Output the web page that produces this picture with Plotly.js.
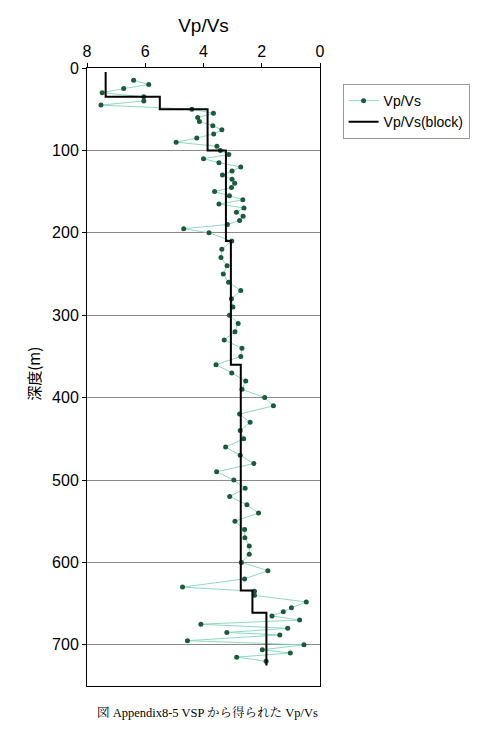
<!DOCTYPE html>
<html>
<head>
<meta charset="utf-8">
<script src="https://cdn.plot.ly/plotly-3.0.1.min.js"></script>
<style>
html,body{margin:0;padding:0;background:#fff;}
#chart{width:482px;height:736px;}
</style>
</head>
<body>
<div id="chart"></div>
<script>
// Measured Vp/Vs by depth (m)
var depth = [15,20,25,30,35,40,45,50,55,60,65,70,75,80,85,90,95,100,105,110,115,120,125,130,135,140,145,150,155,160,165,170,175,180,185,190,195,200,210,220,230,240,250,260,270,280,290,300,310,320,330,340,350,360,370,380,390,400,410,420,430,440,450,460,470,480,490,500,510,520,530,540,550,560,570,580,590,600,610,620,630,635,640,648,655,660,665,670,675,680,685,688,695,700,706,710,715,720];
var vpvs = [6.40,5.88,6.74,7.48,6.05,6.05,7.52,4.40,3.66,4.20,4.14,3.68,3.37,3.65,4.23,4.94,3.54,3.42,3.13,4.00,3.47,2.72,3.02,3.35,3.02,2.93,3.04,3.62,3.11,2.65,3.47,2.61,2.87,2.64,2.76,3.18,4.68,3.81,3.03,3.37,3.40,3.19,3.32,3.14,2.72,3.04,2.99,3.11,2.81,2.92,3.29,2.68,2.72,3.57,3.03,2.55,2.68,1.90,1.60,2.76,2.40,2.74,2.62,3.24,2.74,2.27,3.55,2.96,2.57,3.10,2.51,2.11,2.92,2.59,2.58,2.43,2.43,2.70,1.79,2.59,4.72,2.25,2.25,0.47,0.98,1.26,1.65,0.70,4.09,1.11,3.20,1.38,4.55,0.55,1.98,1.02,2.86,1.85];

// Block model: top depth of each block and its Vp/Vs
var blockTop = [5,35,50,100,210,360,634,661,725];
var blockVal = [7.36,5.50,3.86,3.23,3.06,2.72,2.32,1.84,1.84];

var xTicks = [8,6,4,2,0];
var yTicks = [0,100,200,300,400,500,600,700];

var traces = [
  {
    x: vpvs, y: depth, name: 'Vp/Vs', type: 'scatter', mode: 'lines+markers',
    line: {color: '#8fd8c4', width: 1},
    marker: {color: '#1c5a3c', size: 5}
  },
  {
    x: blockVal, y: blockTop, name: 'Vp/Vs(block)', type: 'scatter', mode: 'lines',
    line: {color: '#000000', width: 2, shape: 'vh'}
  }
];

var layout = {
  width: 482, height: 736,
  margin: {l: 87, r: 159, t: 68, b: 50},
  paper_bgcolor: '#ffffff', plot_bgcolor: '#ffffff',
  font: {family: 'Liberation Sans, Arial, sans-serif', color: '#000'},
  showlegend: true,
  legend: {
    x: 1.097, y: 0.974, xanchor: 'left', yanchor: 'top',
    bordercolor: '#999', borderwidth: 1, bgcolor: '#fff',
    font: {size: 14, family: 'Liberation Sans, Arial, sans-serif'},
    tracegroupgap: 0
  },
  xaxis: {
    side: 'top', range: [8, 0], tickvals: xTicks, ticktext: xTicks.map(String),
    ticks: 'outside', ticklen: 4, tickcolor: '#000',
    showline: true, linecolor: '#000', linewidth: 1, mirror: true,
    showgrid: false, zeroline: false,
    tickfont: {size: 16},
    title: {text: 'Vp/Vs', font: {size: 19}, standoff: 4}
  },
  yaxis: {
    range: [750, 0], tickvals: yTicks, ticktext: yTicks.map(String),
    ticks: 'outside', ticklen: 4, tickcolor: '#000',
    showline: true, linecolor: '#000', linewidth: 1, mirror: true,
    showgrid: true, gridcolor: '#8a8a8a', gridwidth: 1, zeroline: false,
    tickfont: {size: 16}
  },
  annotations: [
    {
      text: '深度(m)', textangle: -90, xref: 'paper', yref: 'paper',
      x: (32 - 87) / 236, y: (686 - 374) / 618, xanchor: 'center', yanchor: 'middle',
      showarrow: false, font: {size: 15, family: 'Noto Sans CJK JP, sans-serif'}
    },
    {
      text: '図 Appendix8-5 VSP から得られた Vp/Vs', xref: 'paper', yref: 'paper',
      x: (95 - 87) / 236, y: (686 - 713) / 618, xanchor: 'left', yanchor: 'middle',
      showarrow: false, font: {size: 12.5, family: 'Liberation Serif, Noto Serif CJK JP, Noto Sans CJK JP, serif'}
    }
  ]
};

Plotly.newPlot('chart', traces, layout, {displayModeBar: false, staticPlot: true});
</script>
</body>
</html>
